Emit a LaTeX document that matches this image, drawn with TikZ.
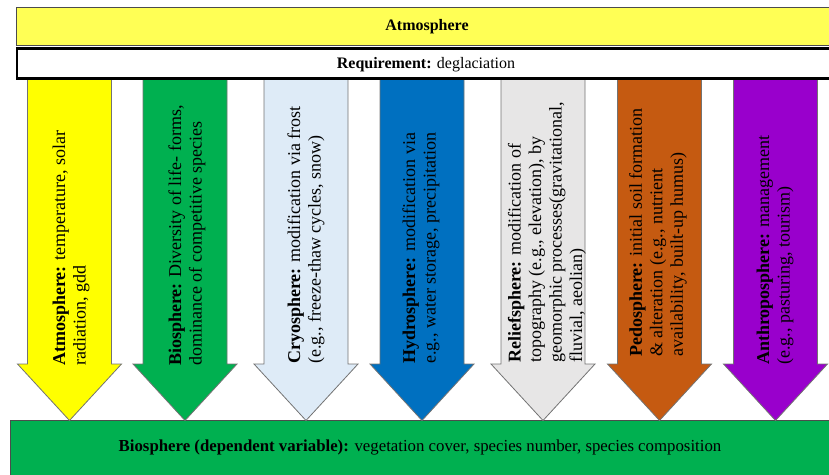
\documentclass[tikz,border=0pt]{standalone}
\usepackage{fontspec}
\setmainfont{Liberation Serif}
\usepackage{tikz}
\usetikzlibrary{positioning,calc}

\definecolor{topyellow}{HTML}{FFFF55}
\definecolor{atmoyellow}{HTML}{FFFF00}
\definecolor{biogreen}{HTML}{00B050}
\definecolor{cryoblue}{HTML}{DEEBF7}
\definecolor{hydroblue}{HTML}{0070C0}
\definecolor{reliefgray}{HTML}{E7E6E6}
\definecolor{pedobrown}{HTML}{C55A11}
\definecolor{anthropurple}{HTML}{9900CC}

\tikzset{
	band/.style={draw=black!70, line width=1pt},
	reqband/.style={draw=black, line width=2.5pt, fill=white},
	headtext/.style={font=\fontsize{16}{19}\selectfont},
	arrowbody/.style={draw=black!55, line width=0.8pt},
	spheretext/.style={rotate=90, anchor=west, inner sep=0pt, align=left, font=\fontsize{18}{20.5}\selectfont}
}

\begin{document}
\begin{tikzpicture}[x=1pt, y=1pt]
\useasboundingbox (0,0) rectangle (829,-474);
\clip (0,0) rectangle (829,-474);

% dependent variable at the bottom
\draw[band, fill=biogreen] (10.5,-420.5) rectangle (840,-490);
\node[headtext, font=\fontsize{16.8}{20}\selectfont] (bio) at (420,-447) {\textbf{Biosphere (dependent variable):} vegetation cover, species number, species composition};

% the seven driving spheres
\foreach \x/\c in {69.5/atmoyellow, 185/biogreen, 306/cryoblue, 422/hydroblue, 543/reliefgray, 659.5/pedobrown, 775.5/anthropurple}{
	\draw[arrowbody, fill=\c] (\x-42,-76) -- (\x+42,-76) -- (\x+42,-364) -- (\x+52,-364)
		-- (\x,-420.5) -- (\x-52,-364) -- (\x-42,-364) -- cycle;
}

\node[spheretext] (atmotxt) at (71,-366) {\textbf{Atmosphere:} temperature, solar\\radiation, gdd};
\node[spheretext] (biotxt) at (187,-366) {\textbf{Biosphere:} Diversity of life- forms,\\dominance of competitive species};
\node[spheretext] (cryotxt) at (306,-364) {\textbf{Cryosphere:} modification via frost\\(e.g., freeze-thaw cycles, snow)};
\node[spheretext] (hydrotxt) at (421,-364) {\textbf{Hydrosphere:} modification via\\e.g., water storage, precipitation};
\node[spheretext] (relieftxt) at (547,-363) {\textbf{Reliefsphere:} modification of\\topography (e.g., elevation), by\\geomorphic processes(gravitational,\\fluvial, aeolian)};
\node[spheretext] (pedotxt) at (658,-357) {\textbf{Pedosphere:} initial soil formation\\\& alteration (e.g., nutrient\\availability, built-up humus)};
\node[spheretext] (anthrotxt) at (775,-365) {\textbf{Anthroposphere:} management\\(e.g., pasturing, tourism)};

% atmosphere and requirement bands on top
\draw[band, fill=topyellow] (16.5,-7.5) rectangle (840,-45.5);
\node[headtext] (atmo) at (427,-26.5) {\textbf{Atmosphere}};
\draw[reqband] (17,-48.5) rectangle (840,-78.5);
\node[headtext] (req) at (426,-64.5) {\textbf{Requirement:} deglaciation};
\end{tikzpicture}
\end{document}
